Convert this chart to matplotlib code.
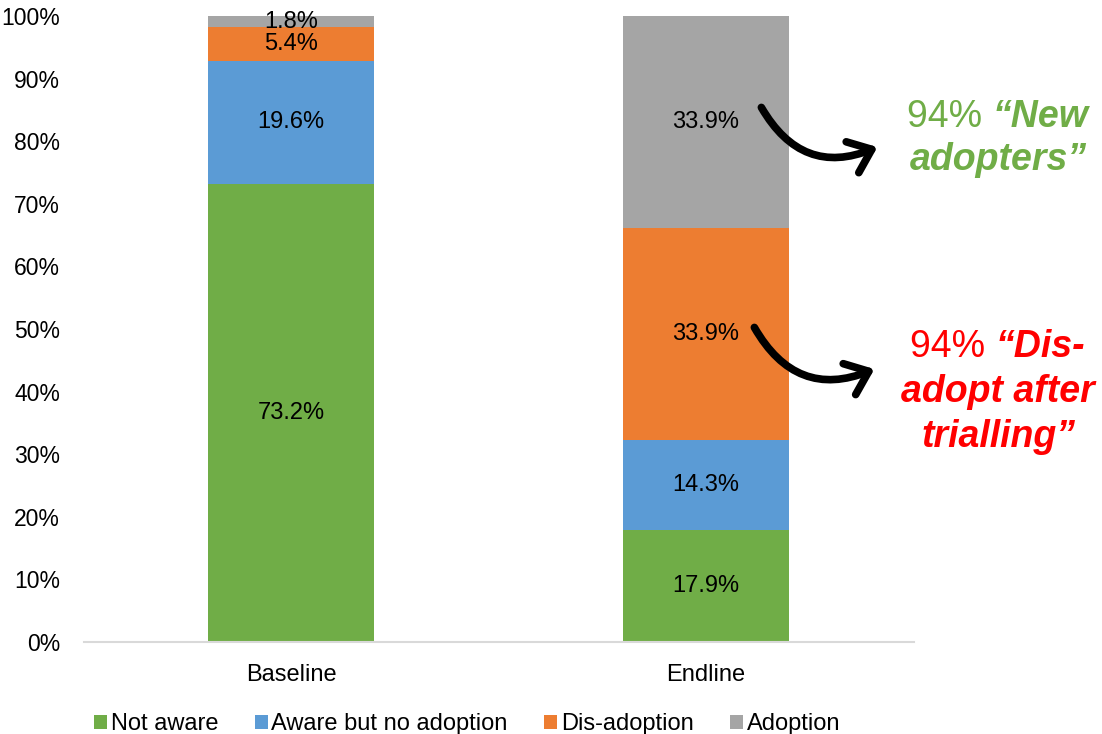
import matplotlib
matplotlib.use("Agg")
import matplotlib.pyplot as plt
from matplotlib.patches import FancyArrowPatch
from matplotlib.ticker import FuncFormatter

plt.rcParams['font.family'] = ['Liberation Sans', 'DejaVu Sans']

categories = ["Baseline", "Endline"]
series_names = ["Not aware", "Aware but no adoption", "Dis-adoption", "Adoption"]
not_aware = [73.2, 17.9]
aware_no_adoption = [19.6, 14.3]
dis_adoption = [5.4, 33.9]
adoption = [1.8, 33.9]
colors = ["#70AD47", "#5B9BD5", "#ED7D31", "#A5A5A5"]
yticks = [0, 10, 20, 30, 40, 50, 60, 70, 80, 90, 100]

fig = plt.figure(figsize=(11.02, 7.34), dpi=100)
ax = fig.add_axes([83.5 / 1102, 92 / 734, 830 / 1102, 626 / 734])

x = list(range(len(categories)))
bottoms = [0.0] * len(categories)
handles = []
for name, vals, col in zip(series_names, [not_aware, aware_no_adoption, dis_adoption, adoption], colors):
    bars = ax.bar(x, vals, width=0.4, bottom=bottoms, color=col, label=name)
    handles.append(bars)
    for xi, v, b in zip(x, vals, bottoms):
        ax.text(xi, b + v / 2, f"{v:.1f}%", ha="center", va="center", fontsize=17, color="#000000")
    bottoms = [b + v for b, v in zip(bottoms, vals)]

ax.set_xlim(-0.5, 1.5)
ax.set_ylim(0, 100)
ax.set_yticks(yticks)
ax.yaxis.set_major_formatter(FuncFormatter(lambda v, p: f"{v:.0f}%"))
ax.set_xticks(x)
ax.set_xticklabels(categories)
ax.tick_params(axis="both", length=0, labelsize=17, colors="#000000")
ax.tick_params(axis="x", pad=16)
ax.tick_params(axis="y", labelsize=16.5, pad=17)
for s in ["top", "right", "left"]:
    ax.spines[s].set_visible(False)
ax.spines["bottom"].set_color("#D9D9D9")
ax.spines["bottom"].set_linewidth(1.5)

fig.legend(handles=handles, labels=series_names, loc="center",
           bbox_to_anchor=(467 / 1102, 10 / 734), ncol=4, frameon=False,
           fontsize=17, handlelength=0.55, handleheight=0.55, handletextpad=0.15,
           columnspacing=1.55)

# Curved call-out arrows (figure pixel coordinates, origin bottom-left)
H = 734
for (x0, y0), (x1, y1) in [((760, 105), (880, 146)), ((753, 325), (877, 368))]:
    arr = FancyArrowPatch((x0, H - y0), (x1, H - y1),
                          connectionstyle="arc3,rad=0.45",
                          arrowstyle="->,head_length=15,head_width=12",
                          linewidth=5.5, color="black", capstyle="round",
                          joinstyle="round", transform=None)
    fig.add_artist(arr)

# Call-out texts: a regular part followed by a bold italic part, centred per line
cx = 998
green_lines = [("94% ", "\u201cNew"), ("", "adopters\u201d")]
red_lines = [("94% ", "\u201cDis-"), ("", "adopt after"), ("", "trialling\u201d")]


def draw_block(lines, y_start, step, color):
    renderer = fig.canvas.get_renderer()
    for i, (plain, bold) in enumerate(lines):
        y = H - (y_start + i * step)
        t1 = fig.text(0, y, plain, color=color, fontsize=27, va="center", transform=None)
        t2 = fig.text(0, y, bold, color=color, fontsize=27, fontweight="bold",
                      fontstyle="italic", va="center", transform=None)
        w1 = t1.get_window_extent(renderer).width if plain else 0
        w2 = t2.get_window_extent(renderer).width
        left = cx - (w1 + w2) / 2
        t1.set_x(left)
        t2.set_x(left + w1)


draw_block(green_lines, 117, 43, "#70AD47")
draw_block(red_lines, 347, 45, "#FF0000")

fig.savefig("out.png", dpi=100)
